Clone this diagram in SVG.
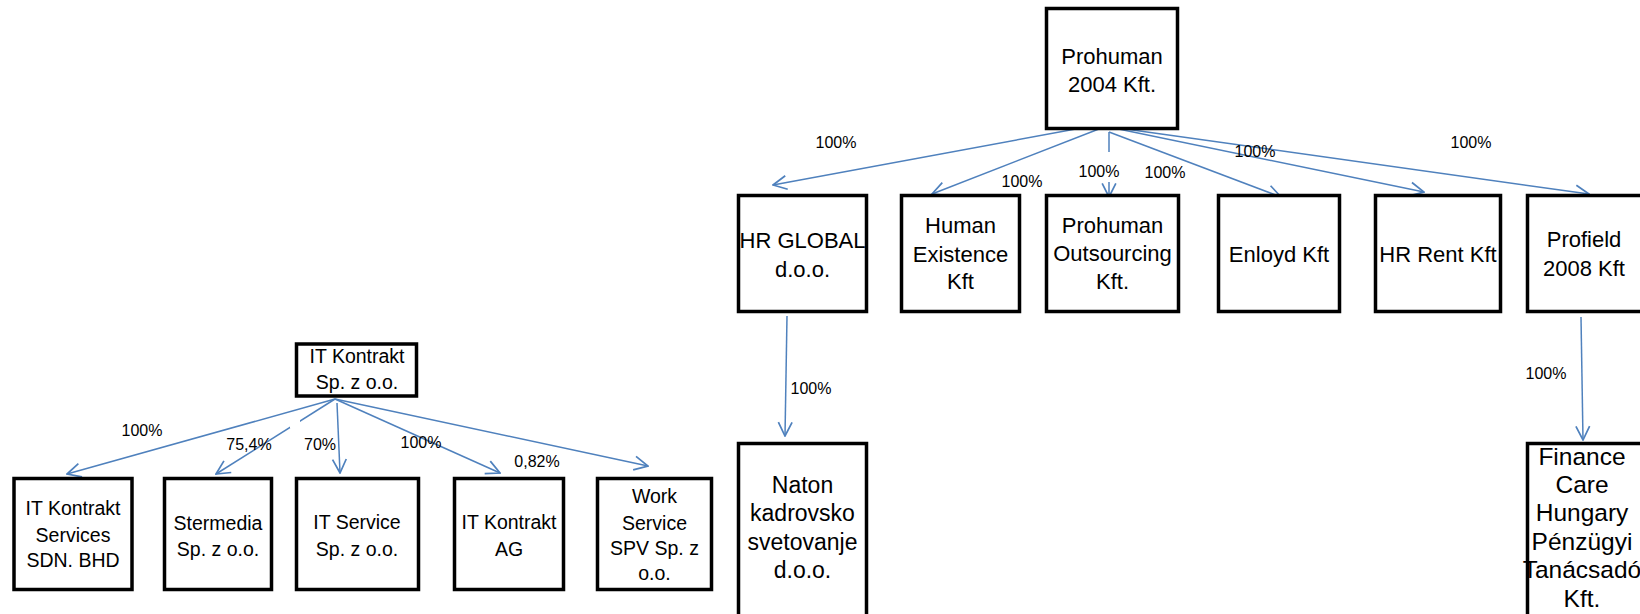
<svg xmlns="http://www.w3.org/2000/svg" width="1640" height="614" viewBox="0 0 1640 614">
<style>
.box{fill:#fff;stroke:#000;stroke-width:3.5}
.t{font-family:"Liberation Sans",Arial,sans-serif;fill:#000;text-anchor:middle}
.l{font-size:19.5px}
.r{font-size:22px}
.n{font-size:23px}
.f{font-size:24.5px}
.p{font-family:"Liberation Sans",Arial,sans-serif;font-size:16px;fill:#000;text-anchor:middle}
.c{fill:none;stroke:#4F81BD;stroke-width:1.5;marker-end:url(#ah)}
.w{fill:#fff}
</style>
<defs>
<marker id="ah" markerUnits="userSpaceOnUse" markerWidth="16" markerHeight="16" viewBox="0 0 14 14" refX="13" refY="7" orient="auto">
<path d="M1,1 L13,7 L1,13" fill="none" stroke="#4F81BD" stroke-width="1.5"/>
</marker>
</defs>
<rect width="1640" height="614" fill="#fff"/>
<g id="connectors">
<line class="c" x1="335" y1="399" x2="67" y2="474"/>
<line class="c" x1="335" y1="399" x2="216" y2="474"/>
<line class="c" x1="337" y1="403" x2="340" y2="473"/>
<line class="c" x1="335" y1="399" x2="500" y2="473"/>
<line class="c" x1="335" y1="399" x2="648" y2="466"/>
<line class="c" x1="1092" y1="126" x2="773" y2="185"/>
<line class="c" x1="1104" y1="127" x2="932" y2="194"/>
<line class="c" x1="1109" y1="132" x2="1109" y2="197"/>
<line class="c" x1="1109" y1="132" x2="1281" y2="197"/>
<line class="c" x1="1104" y1="126" x2="1424" y2="192"/>
<line class="c" x1="1104" y1="126" x2="1589" y2="194"/>
<line class="c" x1="787" y1="316" x2="785" y2="436"/>
<line class="c" x1="1581" y1="317" x2="1583" y2="440"/>
</g>
<g id="labels">
<text class="p" x="142" y="436">100%</text>
<rect class="w" x="290" y="419" width="10" height="9"/>
<text class="p" x="249" y="450">75,4%</text>
<text class="p" x="320" y="450">70%</text>
<text class="p" x="421" y="448">100%</text>
<text class="p" x="537" y="467">0,82%</text>
<text class="p" x="836" y="148">100%</text>
<text class="p" x="1022" y="187">100%</text>
<rect class="w" x="1077" y="152" width="46" height="30"/>
<text class="p" x="1099" y="177">100%</text>
<text class="p" x="1165" y="178">100%</text>
<text class="p" x="1255" y="157">100%</text>
<text class="p" x="1471" y="148">100%</text>
<text class="p" x="811" y="394">100%</text>
<text class="p" x="1546" y="379">100%</text>
</g>
<g id="it-kontrakt">
<rect class="box" x="296.5" y="344" width="120" height="52"/>
<text class="t l" x="357" y="363">IT Kontrakt</text>
<text class="t l" x="357" y="389">Sp. z o.o.</text>
</g>
<g id="it-kontrakt-services">
<rect class="box" x="14" y="478.5" width="118" height="111"/>
<text class="t l" x="73" y="515">IT Kontrakt</text>
<text class="t l" x="73" y="542">Services</text>
<text class="t l" x="73" y="567">SDN. BHD</text>
</g>
<g id="stermedia">
<rect class="box" x="164.5" y="478.5" width="107" height="111"/>
<text class="t l" x="218" y="530">Stermedia</text>
<text class="t l" x="218" y="556">Sp. z o.o.</text>
</g>
<g id="it-service">
<rect class="box" x="296.5" y="478.5" width="122" height="111"/>
<text class="t l" x="357" y="529">IT Service</text>
<text class="t l" x="357" y="556">Sp. z o.o.</text>
</g>
<g id="it-kontrakt-ag">
<rect class="box" x="454.5" y="478.5" width="109" height="111"/>
<text class="t l" x="509" y="529">IT Kontrakt</text>
<text class="t l" x="509" y="556">AG</text>
</g>
<g id="work-service">
<rect class="box" x="597.5" y="478.5" width="114" height="111"/>
<text class="t l" x="654.5" y="503">Work</text>
<text class="t l" x="654.5" y="530">Service</text>
<text class="t l" x="654.5" y="555">SPV Sp. z</text>
<text class="t l" x="654.5" y="580">o.o.</text>
</g>
<g id="prohuman">
<rect class="box" x="1046.5" y="8.5" width="131" height="120"/>
<text class="t r" x="1112" y="64">Prohuman</text>
<text class="t r" x="1112" y="92">2004 Kft.</text>
</g>
<g id="hr-global">
<rect class="box" x="738.5" y="195.5" width="128" height="116"/>
<text class="t r" x="802.5" y="248">HR GLOBAL</text>
<text class="t r" x="802.5" y="277">d.o.o.</text>
</g>
<g id="human-existence">
<rect class="box" x="901.5" y="195.5" width="118" height="116"/>
<text class="t r" x="960.5" y="233">Human</text>
<text class="t r" x="960.5" y="262">Existence</text>
<text class="t r" x="960.5" y="289">Kft</text>
</g>
<g id="prohuman-outsourcing">
<rect class="box" x="1046.5" y="195.5" width="132" height="116"/>
<text class="t r" x="1112.5" y="233">Prohuman</text>
<text class="t r" x="1112.5" y="261">Outsourcing</text>
<text class="t r" x="1112.5" y="289">Kft.</text>
</g>
<g id="enloyd">
<rect class="box" x="1218.5" y="195.5" width="121" height="116"/>
<text class="t r" x="1279" y="262">Enloyd Kft</text>
</g>
<g id="hr-rent">
<rect class="box" x="1375.5" y="195.5" width="125" height="116"/>
<text class="t r" x="1438" y="262">HR Rent Kft</text>
</g>
<g id="profield">
<rect class="box" x="1527.5" y="195.5" width="118" height="116"/>
<text class="t r" x="1584" y="247">Profield</text>
<text class="t r" x="1584" y="276">2008 Kft</text>
</g>
<g id="naton">
<rect class="box" x="738.5" y="443.5" width="128" height="200"/>
<text class="t n" x="802.5" y="493">Naton</text>
<text class="t n" x="802.5" y="521">kadrovsko</text>
<text class="t n" x="802.5" y="550">svetovanje</text>
<text class="t n" x="802.5" y="578">d.o.o.</text>
</g>
<g id="finance-care">
<rect class="box" x="1527.5" y="443.5" width="118" height="200"/>
<text class="t f" x="1582" y="465">Finance</text>
<text class="t f" x="1582" y="493">Care</text>
<text class="t f" x="1582" y="521">Hungary</text>
<text class="t f" x="1582" y="550">Pénzügyi</text>
<text class="t f" x="1582" y="578">Tanácsadó</text>
<text class="t f" x="1582" y="607">Kft.</text>
</g>
</svg>
